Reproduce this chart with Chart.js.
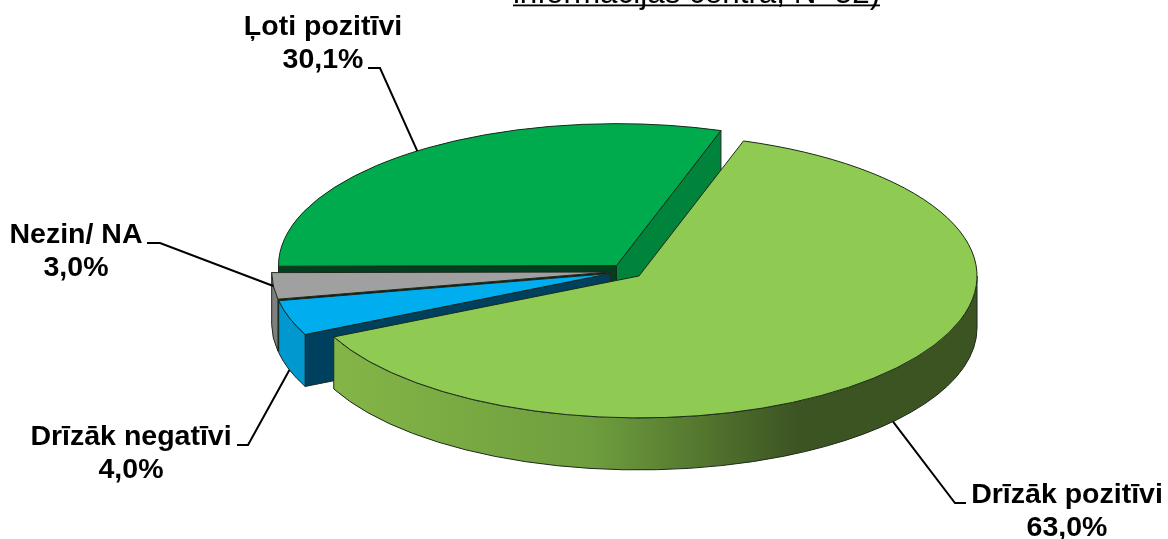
<!DOCTYPE html>
<html>
<head>
<meta charset="utf-8">
<title>Chart</title>
<script src="https://cdn.jsdelivr.net/npm/chart.js@4"></script>
<style>
  html, body { margin: 0; padding: 0; background: #fff; overflow: hidden; }
  canvas { display: block; }
</style>
</head>
<body>
<canvas id="pie" width="1168" height="539"></canvas>
<script>
// slice order follows the pie clockwise from the start angle
const categories = ['Drīzāk pozitīvi', 'Drīzāk negatīvi', 'Nezin/ NA', 'Ļoti pozitīvi'];
const shares = [63.0, 4.0, 3.0, 30.1];

const topColors = ['#8FCA52', '#00ADEF', '#A0A0A0', '#00AB4E'];
const rimColors = [null, '#0098CF', '#7F7F7F', '#00833A'];
const startFaceColors = [null, '#00405F', '#151515', '#00401F'];
const endFaceColors = [null, null, null, '#00833A'];

const chartTitle = 'informācijas centra, N=52)';
const titleFont = '31.4px "Liberation Sans", Arial, sans-serif';
const labelFont = 'bold 28.5px "Liberation Sans", Arial, sans-serif';

// tilted pie geometry
const TILT = 0.42;
const DEPTH = 52;
const RADIUS = 338;
const EXPLODE = 16.8;
const CENTER_X = 626.4;
const CENTER_Y = 271.3;

// label centre, first baseline, leader elbow and end, does the leader sit on the lower rim
const labelLayout = [
  { x: 1067, y: 503, elbow: [955, 503], end: [966, 503], lower: true },
  { x: 131, y: 445, elbow: [248, 445], end: [237, 445], lower: true },
  { x: 76, y: 243, elbow: [160, 243], end: [147, 243], lower: false },
  { x: 323, y: 35, elbow: [380, 68], end: [368, 68], lower: false }
];

const formatShare = v => v.toFixed(1).replace('.', ',') + '%';

// where a slice ends up on screen, its tip is pushed out along the middle of the slice
function sliceTip(arc) {
  const mid = (arc.startAngle + arc.endAngle) / 2;
  return {
    x: CENTER_X + Math.cos(mid) * EXPLODE,
    y: CENTER_Y + Math.sin(mid) * EXPLODE * TILT
  };
}

function rimPoint(tip, angle) {
  return { x: tip.x + Math.cos(angle) * RADIUS, y: tip.y + Math.sin(angle) * RADIUS * TILT };
}

function drawRadialFace(ctx, tip, angle, color) {
  const p = rimPoint(tip, angle);
  ctx.beginPath();
  ctx.moveTo(tip.x, tip.y);
  ctx.lineTo(p.x, p.y);
  ctx.lineTo(p.x, p.y + DEPTH);
  ctx.lineTo(tip.x, tip.y + DEPTH);
  ctx.closePath();
  ctx.fillStyle = color;
  ctx.fill();
  ctx.stroke();
}

function drawRim(ctx, tip, from, to, fill) {
  const a = from;
  const b = Math.min(to, Math.PI);
  if (b <= a) return;
  ctx.beginPath();
  ctx.ellipse(tip.x, tip.y, RADIUS, RADIUS * TILT, 0, a, b);
  ctx.ellipse(tip.x, tip.y + DEPTH, RADIUS, RADIUS * TILT, 0, b, a, true);
  ctx.closePath();
  ctx.fillStyle = fill;
  ctx.fill();
  ctx.stroke();
}

const tiltedPie = {
  id: 'tiltedPie',
  beforeDatasetsDraw(chart) {
    const ctx = chart.ctx;
    const arcs = chart.getDatasetMeta(0).data;
    ctx.save();
    ctx.lineWidth = 1;
    ctx.strokeStyle = '#1c2a1c';

    // sides first, back to front, the tops are painted over them
    for (let i = arcs.length - 1; i >= 0; i--) {
      const arc = arcs[i];
      const tip = sliceTip(arc);
      if (-Math.cos(arc.startAngle) > 0 && startFaceColors[i]) {
        drawRadialFace(ctx, tip, arc.startAngle, startFaceColors[i]);
      }
      if (Math.cos(arc.endAngle) > 0 && endFaceColors[i]) {
        drawRadialFace(ctx, tip, arc.endAngle, endFaceColors[i]);
      }
      let fill = rimColors[i];
      if (!fill) {
        const left = rimPoint(tip, arc.endAngle).x;
        fill = ctx.createLinearGradient(left, 0, tip.x + RADIUS, 0);
        fill.addColorStop(0, '#84B547');
        fill.addColorStop(0.4, '#6F9E3E');
        fill.addColorStop(0.72, '#3C5422');
        fill.addColorStop(1, '#3C5422');
      }
      drawRim(ctx, tip, Math.max(arc.startAngle, 0), arc.endAngle, fill);
    }
    ctx.restore();

    // Chart.js paints the tops, squashed flat. Its offset also grows the radius, take that back out
    arcs.forEach(arc => {
      const sweep = arc.endAngle - arc.startAngle;
      const fix = 1 - Math.sin(Math.min(Math.PI, sweep));
      arc.outerRadius = RADIUS - EXPLODE * fix;
    });
    ctx.save();
    ctx.translate(CENTER_X, CENTER_Y);
    ctx.scale(1, TILT);
    ctx.translate(-arcs[0].x, -arcs[0].y);
  },
  afterDatasetsDraw(chart) {
    const ctx = chart.ctx;
    const arcs = chart.getDatasetMeta(0).data;
    ctx.restore();

    // outlines of the tops, drawn unscaled so the line stays even
    // the fill closes a hairline gap that shows next to the outline at the top corner
    ctx.save();
    ctx.lineWidth = 1;
    ctx.strokeStyle = '#1c2a1c';
    arcs.forEach((arc, i) => {
      const tip = sliceTip(arc);
      ctx.beginPath();
      ctx.moveTo(tip.x, tip.y);
      ctx.ellipse(tip.x, tip.y, RADIUS, RADIUS * TILT, 0, arc.startAngle, arc.endAngle);
      ctx.closePath();
      ctx.fillStyle = topColors[i];
      ctx.fill();
      ctx.stroke();
    });

    // leader lines
    ctx.strokeStyle = '#000';
    ctx.lineWidth = 2;
    arcs.forEach((arc, i) => {
      const layout = labelLayout[i];
      const p = rimPoint(sliceTip(arc), (arc.startAngle + arc.endAngle) / 2);
      ctx.beginPath();
      ctx.moveTo(p.x, p.y + (layout.lower ? DEPTH : 0));
      ctx.lineTo(layout.elbow[0], layout.elbow[1]);
      ctx.lineTo(layout.end[0], layout.end[1]);
      ctx.stroke();
    });

    // labels
    ctx.fillStyle = '#000';
    ctx.font = labelFont;
    ctx.textAlign = 'center';
    ctx.textBaseline = 'alphabetic';
    categories.forEach((name, i) => {
      const layout = labelLayout[i];
      ctx.fillText(name, layout.x, layout.y);
      ctx.fillText(formatShare(shares[i]), layout.x, layout.y + 33);
    });

    // title runs off the top of the picture, only its foot shows
    ctx.font = titleFont;
    ctx.fillText(chartTitle, 696.5, 3);
    ctx.fillRect(513, 4.5, 367, 1.8);
    ctx.restore();
  }
};

new Chart(document.getElementById('pie'), {
  type: 'pie',
  data: {
    labels: categories,
    datasets: [{
      data: shares,
      backgroundColor: topColors,
      borderWidth: 0,
      offset: EXPLODE * 4,
      clip: false
    }]
  },
  options: {
    responsive: false,
    animation: false,
    rotation: 18,
    radius: RADIUS,
    layout: { padding: 0 },
    plugins: {
      legend: { display: false },
      title: { display: false },
      tooltip: { enabled: false }
    }
  },
  plugins: [tiltedPie]
});
</script>
</body>
</html>
